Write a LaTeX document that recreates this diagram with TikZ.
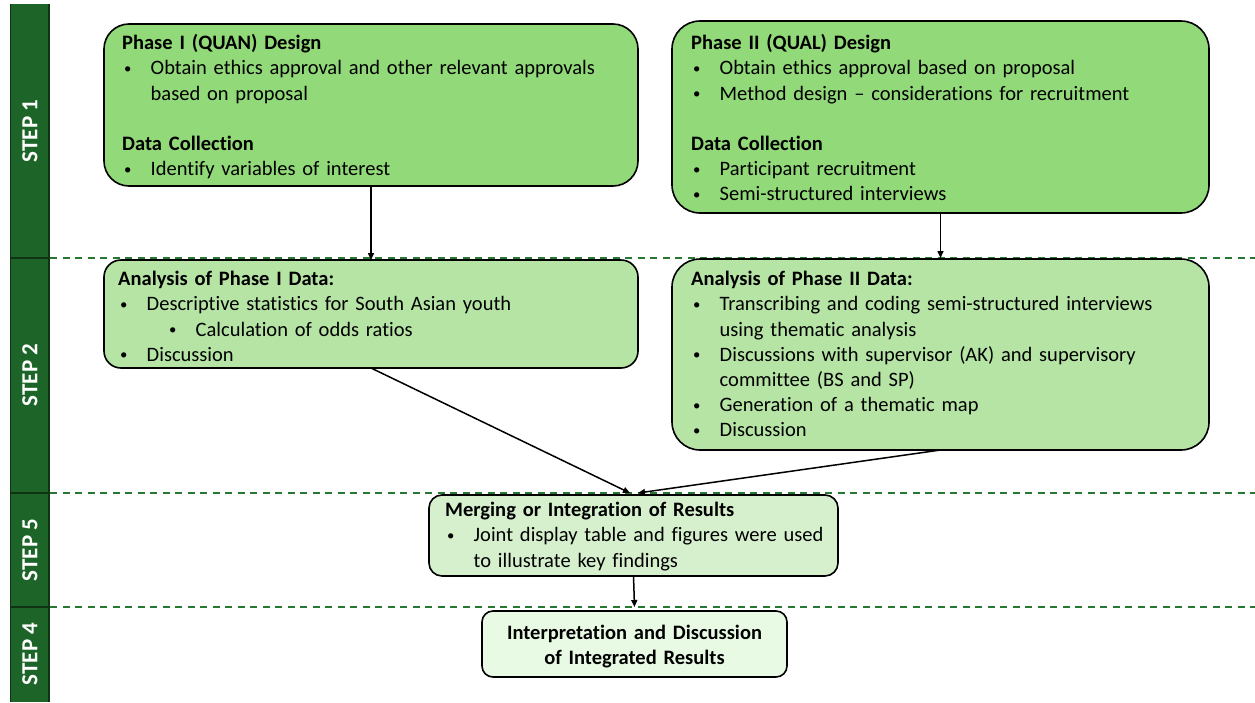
\documentclass[tikz,border=0pt]{standalone}
\usepackage{fontspec}
\usepackage{graphicx}
\setmainfont{Carlito}[Ligatures=NoCommon]
\usetikzlibrary{arrows.meta}

\definecolor{barGreen}{RGB}{28,100,40}
\definecolor{barEdge}{RGB}{14,52,20}
\definecolor{dashGreen}{RGB}{38,120,50}
\definecolor{fillA}{RGB}{146,217,121}
\definecolor{fillB}{RGB}{181,228,165}
\definecolor{fillC}{RGB}{214,240,206}
\definecolor{fillD}{RGB}{233,250,228}

% small bullet glyph and bullet helpers
\newcommand\smallbullet{\raisebox{1.6pt}{\scalebox{0.72}{\textbullet}}}
\newcommand\bitem{\makebox[28.5pt][l]{\hspace*{2pt}\smallbullet}}
\newcommand\bcont{\hspace*{28.5pt}}
\newcommand\bsubitem{\hspace*{51pt}\makebox[26.5pt][l]{\smallbullet}}

\begin{document}
\begin{tikzpicture}[x=1pt,y=-1pt,
  box/.style={draw=black, line width=1.6pt, anchor=north west, inner sep=0pt, outer sep=0pt},
  txt/.style={anchor=base west, align=left, inner sep=0pt, text width=#1,
              font=\fontsize{20.5}{25.2}\selectfont},
  txt/.default=520pt,
  steplbl/.style={rotate=90, text=white, inner sep=0pt,
                  font=\bfseries\fontsize{23}{25}\selectfont},
  sep/.style={dashGreen, line width=2pt, dash pattern=on 7pt off 5.5pt},
  arr/.style={-{Triangle[length=7pt,width=6pt]}, line width=1.5pt, black}]

\useasboundingbox (0,0) rectangle (1255,702);

% left step bar
\fill[barGreen] (9.5,4) rectangle (50,702);
\draw[barEdge, line width=1.5pt] (10.3,4) -- (10.3,702);
\draw[barEdge, line width=2pt] (49,4) -- (49,702);
\foreach \yy in {258,493,607}
  \draw[barEdge, line width=2pt] (10.3,\yy) -- (49,\yy);

\node[steplbl] (st1) at (30,131) {STEP 1};
\node[steplbl] (st2) at (30,375) {STEP 2};
\node[steplbl] (st5) at (30,550) {STEP 5};
\node[steplbl] (st4) at (30,654) {STEP 4};

% dashed step separators
\foreach \yy in {258,493,607}
  \draw[sep] (50,\yy) -- (1255,\yy);

% STEP 1 boxes
\node[box, fill=fillA, rounded corners=25pt, minimum width=534pt, minimum height=162pt] (p1) at (104,24) {};
\node[txt] (p1t) at (122,49.6) {\textbf{Phase I (QUAN) Design}\\
  \bitem Obtain ethics approval and other relevant approvals\\
  \bcont based on proposal\\[25.2pt]
  \textbf{Data Collection}\\
  \bitem Identify variables of interest};

\node[box, fill=fillA, rounded corners=28pt, minimum width=537pt, minimum height=192pt] (p2) at (672,21) {};
\node[txt] (p2t) at (691,49.6) {\textbf{Phase II (QUAL) Design}\\
  \bitem Obtain ethics approval based on proposal\\
  \bitem Method design -- considerations for recruitment\\[25.2pt]
  \textbf{Data Collection}\\
  \bitem Participant recruitment\\
  \bitem Semi-structured interviews};

% STEP 2 boxes
\node[box, fill=fillB, rounded corners=17pt, minimum width=534pt, minimum height=108pt] (a1) at (104,260) {};
\node[txt] (a1t) at (118,285.6) {\textbf{Analysis of Phase I Data:}\\
  \bitem Descriptive statistics for South Asian youth\\
  \bsubitem Calculation of odds ratios\\
  \bitem Discussion};

\node[box, fill=fillB, rounded corners=28pt, minimum width=537pt, minimum height=191pt] (a2) at (672,259) {};
\node[txt] (a2t) at (691,285.6) {\textbf{Analysis of Phase II Data:}\\
  \bitem Transcribing and coding semi-structured interviews\\
  \bcont using thematic analysis\\
  \bitem Discussions with supervisor (AK) and supervisory\\
  \bcont committee (BS and SP)\\
  \bitem Generation of a thematic map\\
  \bitem Discussion};

% STEP 5 box
\node[box, fill=fillC, rounded corners=13pt, minimum width=409pt, minimum height=81pt] (m) at (429,495) {};
\node[txt=400pt] (mt) at (445,516.7) {\textbf{Merging or Integration of Results}\\
  \bitem Joint display table and figures were used\\
  \bcont to illustrate key findings};

% STEP 4 box
\node[box, fill=fillD, rounded corners=11pt, minimum width=305pt, minimum height=66pt] (i) at (482,611) {};
\node[anchor=base, align=center, inner sep=0pt, text width=300pt,
      font=\bfseries\fontsize{20.5}{25.2}\selectfont]
  (it) at (634.5,639.3) {Interpretation and Discussion\\of Integrated Results};

% connectors
\draw[arr] (p1.south) -- (a1.north);
\draw[arr] (p2.south) -- ([yshift=1pt]a2.north);
\draw[arr] (a1.south) -- ([xshift=-3.5pt,yshift=2pt]m.north);
\draw[arr] (a2.south) -- ([xshift=4.5pt,yshift=2pt]m.north);
\draw[arr] (m.south) -- ([yshift=4pt]i.north);

\end{tikzpicture}
\end{document}
